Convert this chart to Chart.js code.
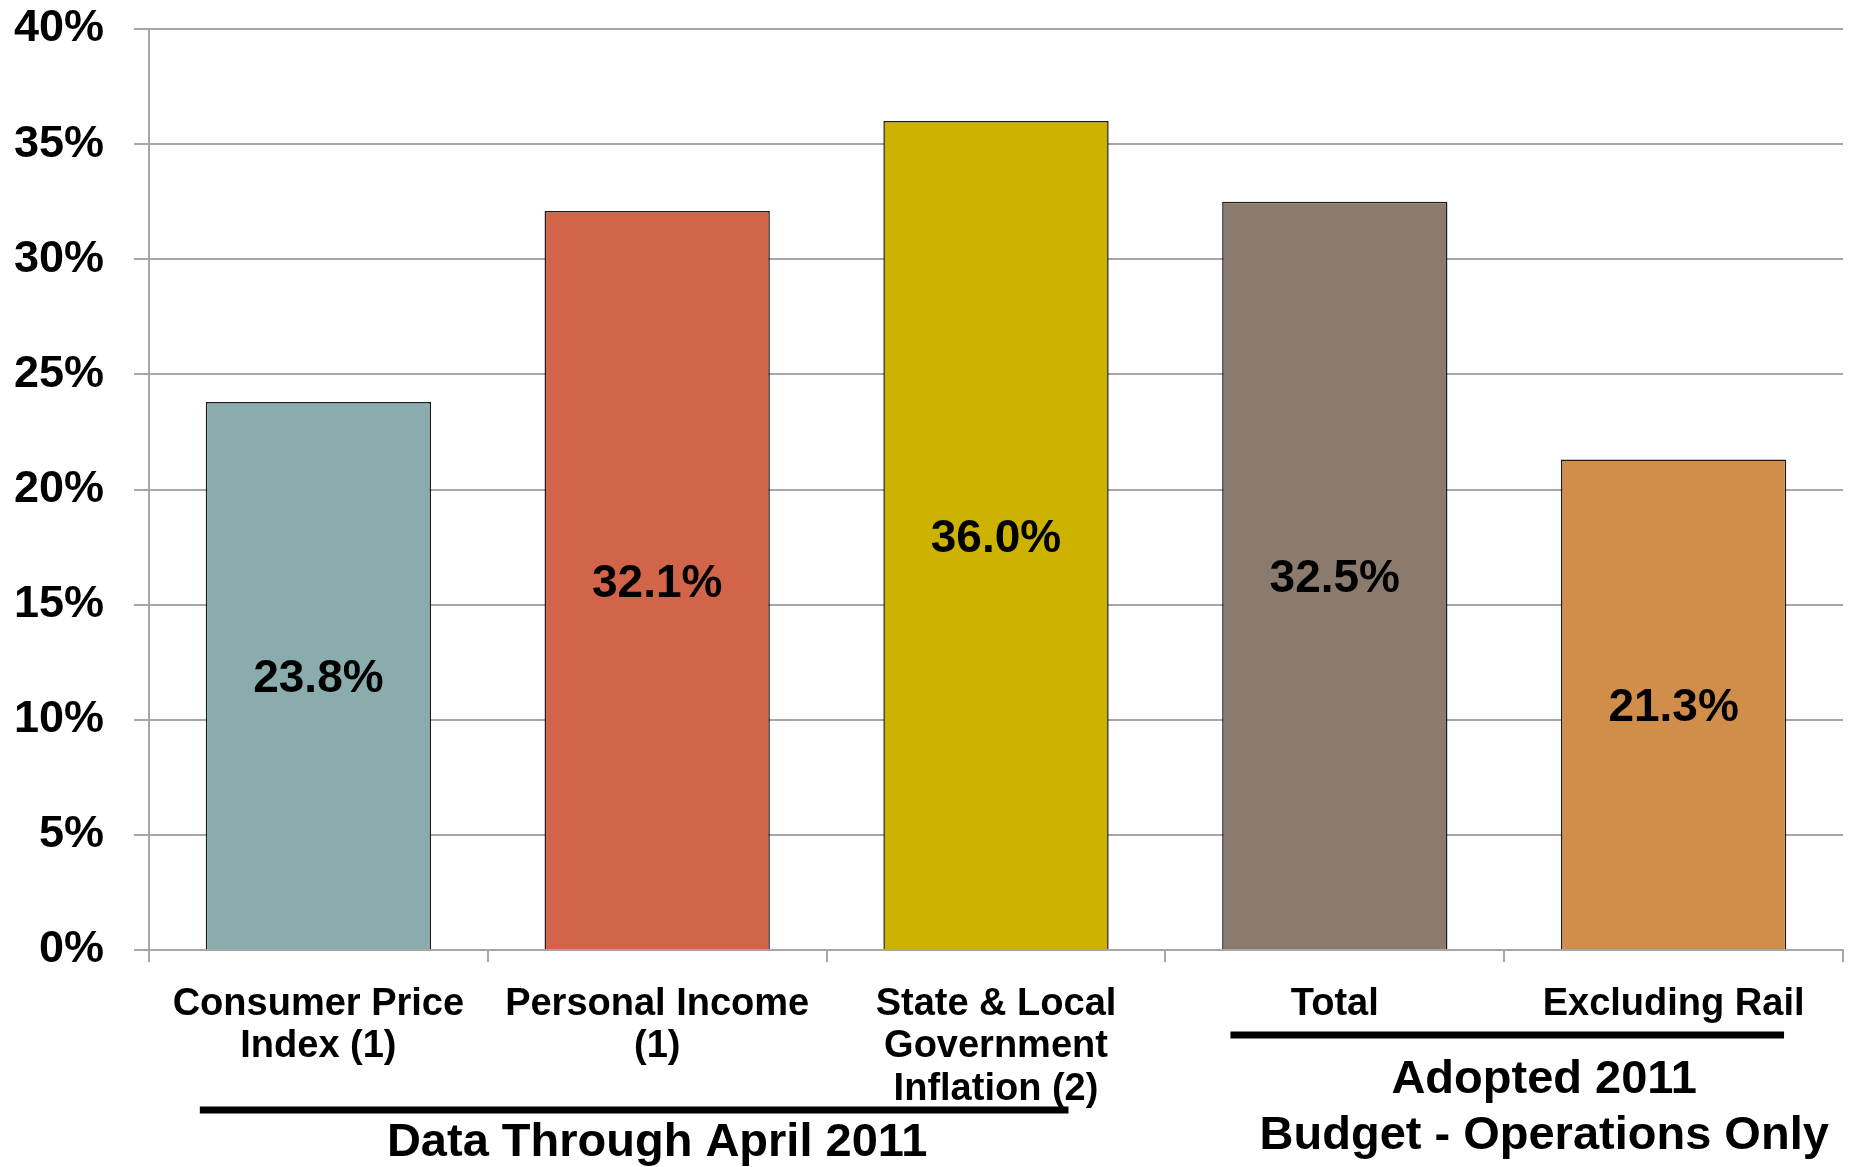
<!DOCTYPE html>
<html>
<head>
<meta charset="utf-8">
<script src="https://cdn.jsdelivr.net/npm/chart.js@4.4.1/dist/chart.umd.min.js"></script>
<style>
  body { margin: 0; background: #fff; }
  #wrap { width: 1856px; height: 1167px; position: relative; }
</style>
</head>
<body>
<div id="wrap"><canvas id="growth-chart"></canvas></div>
<script>
// categories, values and group captions
const categories = [
    ['Consumer Price', 'Index (1)'],
    ['Personal Income', '(1)'],
    ['State & Local', 'Government', 'Inflation (2)'],
    ['Total'],
    ['Excluding Rail']
];
const values = [23.8, 32.1, 36.0, 32.5, 21.3];
const barColors = ['#8BACAC', '#D2644A', '#CDB300', '#8B7B6F', '#D08E4A'];
const groupLeft = ['Data Through April 2011'];
const groupRight = ['Adopted 2011', 'Budget - Operations Only'];

const FONT = "'Liberation Sans', Arial, sans-serif";
const GRID = '#A6A6A6';

// value labels in the middle of each bar
const barLabels = {
    id: 'barLabels',
    afterDatasetsDraw(chart) {
        const ctx = chart.ctx;
        const meta = chart.getDatasetMeta(0);
        ctx.save();
        ctx.font = 'bold 46px ' + FONT;
        ctx.fillStyle = '#000';
        ctx.textAlign = 'center';
        ctx.textBaseline = 'middle';
        meta.data.forEach((bar, i) => {
            const p = bar.getProps(['x', 'y', 'base'], true);
            ctx.fillText(values[i].toFixed(1) + '%', p.x, (p.y + p.base) / 2 + 4);
        });
        ctx.restore();
    }
};

// group underlines and captions below the category labels
const groupCaptions = {
    id: 'groupCaptions',
    afterDraw(chart) {
        const ctx = chart.ctx;
        const x = chart.scales.x;
        const step = x.getPixelForValue(1) - x.getPixelForValue(0);
        ctx.save();
        ctx.strokeStyle = '#000';
        ctx.lineWidth = 7;
        ctx.beginPath();
        ctx.moveTo(x.getPixelForValue(0) - 0.35 * step, 1110);
        ctx.lineTo(x.getPixelForValue(2) + 0.214 * step, 1110);
        ctx.moveTo(x.getPixelForValue(3) - 0.308 * step, 1035);
        ctx.lineTo(x.getPixelForValue(4) + 0.326 * step, 1035);
        ctx.stroke();

        ctx.font = 'bold 47px ' + FONT;
        ctx.fillStyle = '#000';
        ctx.textAlign = 'center';
        ctx.textBaseline = 'middle';
        ctx.fillText(groupLeft[0], x.getPixelForValue(1), 1143);
        const rx = (x.getPixelForValue(3) + x.getPixelForValue(4)) / 2 + 40;
        groupRight.forEach((t, i) => ctx.fillText(t, rx, 1080 + i * 56));
        ctx.restore();
    }
};

document.addEventListener('DOMContentLoaded', function() {
    const ctx = document.getElementById('growth-chart').getContext('2d');
    new Chart(ctx, {
        type: 'bar',
        data: {
            labels: categories,
            datasets: [{
                data: values,
                backgroundColor: barColors,
                borderColor: '#1a1a1a',
                borderWidth: 1.5,
                barPercentage: 0.665,
                categoryPercentage: 1.0
            }]
        },
        options: {
            responsive: true,
            maintainAspectRatio: false,
            animation: false,
            layout: { padding: { left: 0, right: 13, top: 0, bottom: 0 } },
            plugins: { legend: { display: false }, tooltip: { enabled: false } },
            scales: {
                x: {
                    offset: true,
                    afterFit(scale) { scale.height = 217; scale.paddingLeft = 0; scale.paddingRight = 0; },
                    grid: { offset: true, drawOnChartArea: false, color: GRID, lineWidth: 2, tickLength: 12 },
                    border: { display: true, color: GRID, width: 2 },
                    ticks: {
                        autoSkip: false, maxRotation: 0, padding: 21, color: '#000',
                        font: { family: FONT, size: 38, weight: 'bold', lineHeight: 1.12 }
                    }
                },
                y: {
                    min: 0, max: 40,
                    afterFit(scale) { scale.width = 149; scale.paddingTop = 29; scale.paddingBottom = 0; },
                    grid: { color: GRID, lineWidth: 2, tickLength: 15 },
                    border: { display: true, color: GRID, width: 2 },
                    ticks: {
                        stepSize: 5, padding: 30, color: '#000',
                        font: { family: FONT, size: 45, weight: 'bold' },
                        callback: v => v + '%'
                    }
                }
            }
        },
        plugins: [barLabels, groupCaptions]
    });
});
</script>
</body>
</html>
